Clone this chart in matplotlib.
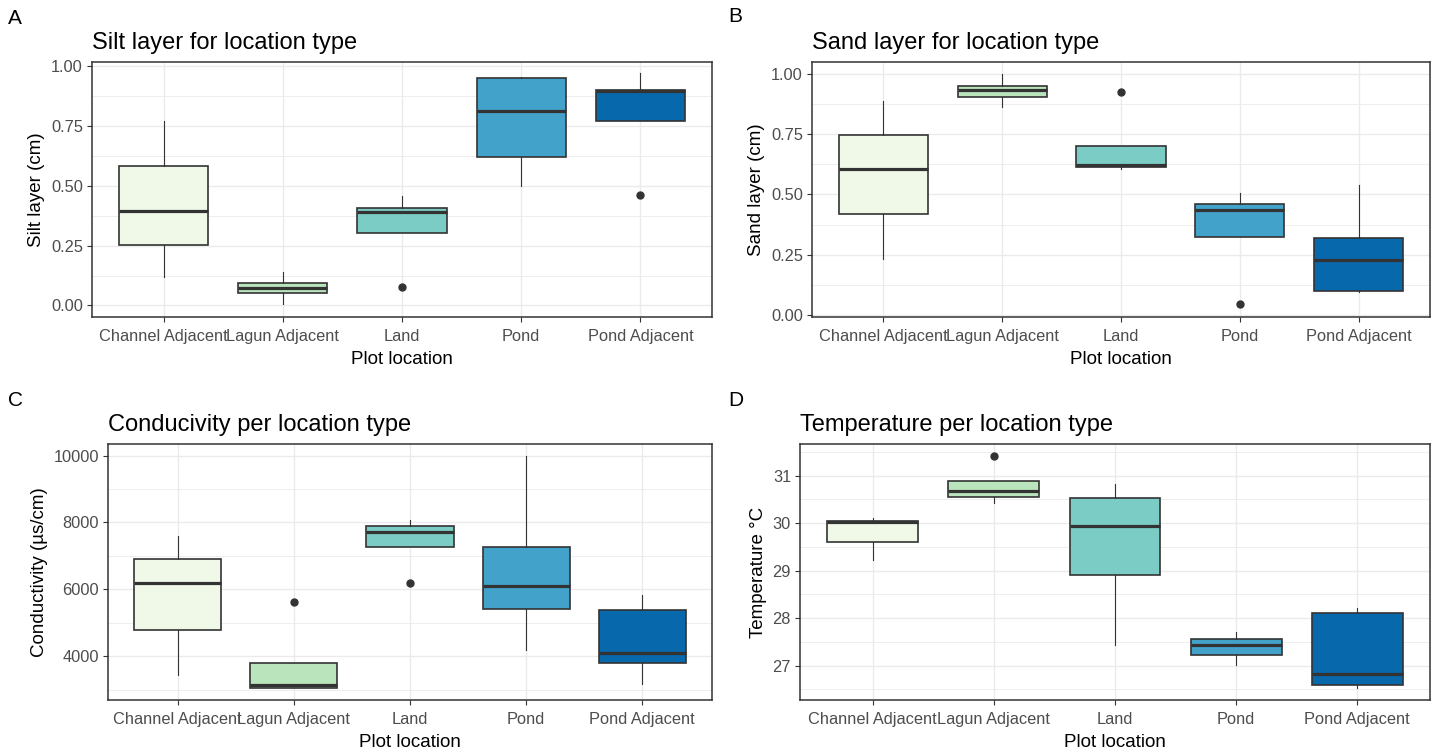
import matplotlib
matplotlib.use("Agg")
import matplotlib.pyplot as plt
from matplotlib.ticker import FixedLocator

# ---- data -------------------------------------------------------------
categories = ["Channel Adjacent", "Lagun Adjacent", "Land", "Pond", "Pond Adjacent"]
fill_colors = ["#F0F9E8", "#BAE4BC", "#7BCCC4", "#43A2CA", "#0868AC"]

# Silt layer (cm)
silt_lo = [0.118, 0.004, 0.303, 0.500, 0.770]
silt_q1 = [0.253, 0.050, 0.303, 0.623, 0.770]
silt_med = [0.394, 0.073, 0.390, 0.813, 0.897]
silt_q3 = [0.584, 0.094, 0.406, 0.952, 0.902]
silt_hi = [0.773, 0.139, 0.459, 0.957, 0.971]
silt_out = [[], [], [0.077], [], [0.463]]

# Sand layer (cm)
sand_lo = [0.231, 0.860, 0.605, 0.325, 0.095]
sand_q1 = [0.418, 0.901, 0.614, 0.325, 0.101]
sand_med = [0.605, 0.932, 0.620, 0.437, 0.230]
sand_q3 = [0.744, 0.950, 0.699, 0.460, 0.318]
sand_hi = [0.887, 1.000, 0.699, 0.506, 0.539]
sand_out = [[], [], [0.924], [0.044], []]

# Conductivity (µs/cm)
cond_lo = [3433, 3035, 7254, 4179, 3154]
cond_q1 = [4786, 3035, 7254, 5423, 3801]
cond_med = [6199, 3134, 7721, 6090, 4100]
cond_q3 = [6905, 3801, 7891, 7254, 5383]
cond_hi = [7582, 3801, 8060, 10000, 5841]
cond_out = [[], [5622], [6179], [], []]

# Temperature (°C)
temp_lo = [29.23, 30.43, 27.44, 27.01, 26.52]
temp_q1 = [29.61, 30.55, 28.90, 27.22, 26.60]
temp_med = [30.03, 30.68, 29.93, 27.44, 26.82]
temp_q3 = [30.05, 30.89, 30.52, 27.56, 28.11]
temp_hi = [30.10, 30.89, 30.82, 27.71, 28.21]
temp_out = [[], [31.42], [], [], []]

# ---- styling ------------------------------------------------------------
W, H = 1434, 751
FONT = ["Liberation Sans", "DejaVu Sans"]
GREY20 = "#333333"
GREY30 = "#4D4D4D"
GRID = "#EBEBEB"

fig = plt.figure(figsize=(W / 100, H / 100), dpi=100)


def px_rect(left, top, right, bottom):
    return [left / W, 1 - bottom / H, (right - left) / W, (bottom - top) / H]


def panel(rect, letter, letter_xy, title, ylabel, lo, q1, med, q3, hi, out,
          ylim, yticks, yminor, ytick_fmt):
    ax = fig.add_axes(px_rect(*rect))
    stats = []
    for i, name in enumerate(categories):
        stats.append(dict(label=name, whislo=lo[i], q1=q1[i], med=med[i],
                          q3=q3[i], whishi=hi[i], fliers=out[i]))
    pos = list(range(1, len(categories) + 1))
    art = ax.bxp(stats, positions=pos, widths=0.75, patch_artist=True,
                 showcaps=False,
                 boxprops=dict(edgecolor=GREY20, linewidth=1.2),
                 medianprops=dict(color=GREY20, linewidth=2.3, solid_capstyle="butt"),
                 whiskerprops=dict(color=GREY20, linewidth=0.8),
                 flierprops=dict(marker="o", markerfacecolor=GREY20,
                                 markeredgecolor=GREY20, markersize=5))
    for patch, c in zip(art["boxes"], fill_colors):
        patch.set_facecolor(c)

    ax.set_xlim(0.4, len(categories) + 0.6)
    ax.set_ylim(*ylim)
    ax.set_xticks(pos)
    ax.set_xticklabels(categories, family=FONT, fontsize=11.8, color=GREY30)
    ax.set_yticks(yticks)
    ax.set_yticklabels([ytick_fmt(v) for v in yticks], family=FONT,
                       fontsize=11.8, color=GREY30)
    ax.yaxis.set_minor_locator(FixedLocator(yminor))
    ax.tick_params(axis="both", which="major", length=3.5, width=0.8,
                   color=GREY20, pad=3)
    ax.tick_params(axis="x", which="major", pad=5)
    ax.tick_params(axis="y", which="minor", length=0)
    ax.set_axisbelow(True)
    ax.grid(True, which="major", color=GRID, linewidth=1.0)
    ax.grid(True, which="minor", axis="y", color=GRID, linewidth=0.6)
    for s in ax.spines.values():
        s.set_color(GREY20)
        s.set_linewidth(1.1)

    ax.set_xlabel("Plot location", family=FONT, fontsize=13.5, labelpad=5)
    ax.set_ylabel(ylabel, family=FONT, fontsize=13.5, labelpad=4)
    ax.set_title(title, loc="left", family=FONT, fontsize=17, pad=9)
    fig.text(letter_xy[0] / W, 1 - letter_xy[1] / H, letter, family=FONT,
             fontsize=15, ha="left", va="center")
    return ax


panel((92, 62, 712, 317), "A", (8, 19), "Silt layer for location type",
      "Silt layer (cm)", silt_lo, silt_q1, silt_med, silt_q3, silt_hi, silt_out,
      (-0.0485, 1.0185), [0, 0.25, 0.5, 0.75, 1.0],
      [0.125, 0.375, 0.625, 0.875], lambda v: f"{v:.2f}")

panel((812, 62, 1430, 317), "B", (728, 17), "Sand layer for location type",
      "Sand layer (cm)", sand_lo, sand_q1, sand_med, sand_q3, sand_hi, sand_out,
      (-0.0078, 1.0478), [0, 0.25, 0.5, 0.75, 1.0],
      [0.125, 0.375, 0.625, 0.875], lambda v: f"{v:.2f}")

panel((108, 444, 712, 700), "C", (8, 400), "Conducivity per location type",
      "Conductivity (µs/cm)", cond_lo, cond_q1, cond_med, cond_q3, cond_hi, cond_out,
      (2687, 10348), [4000, 6000, 8000, 10000],
      [3000, 5000, 7000, 9000], lambda v: f"{v:.0f}")

panel((800, 444, 1430, 700), "D", (728, 400), "Temperature per location type",
      "Temperature °C", temp_lo, temp_q1, temp_med, temp_q3, temp_hi, temp_out,
      (26.275, 31.665), [27, 28, 29, 30, 31],
      [26.5, 27.5, 28.5, 29.5, 30.5, 31.5], lambda v: f"{v:.0f}")

fig.savefig("out.png", dpi=100, facecolor="white")
